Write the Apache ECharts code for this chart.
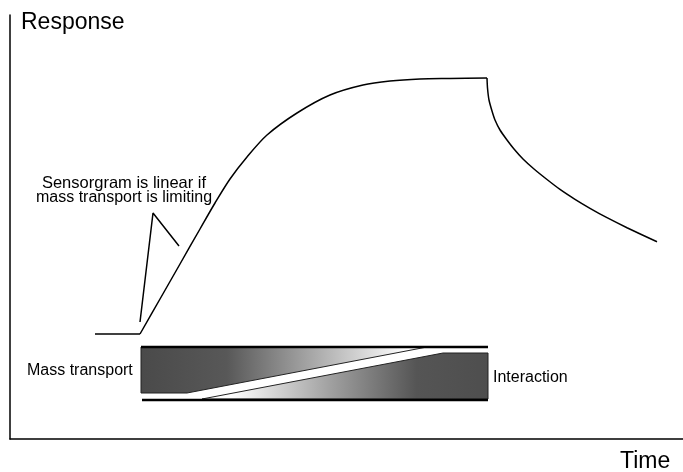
<!DOCTYPE html>
<html>
<head>
<meta charset="utf-8">
<script src="https://cdn.jsdelivr.net/npm/echarts@6/dist/echarts.min.js"></script>
<style>html,body{margin:0;padding:0;background:#fff;}#c{width:683px;height:472px;}</style>
</head>
<body>
<div id="c"></div>
<script>
// Sensorgram (arbitrary time / response units)
var baselineTime = [85, 130];
var baselineResp = [105, 105];
var assocTime = [130, 150, 170, 190, 205, 220, 237, 257, 287, 320, 353, 380, 410, 440, 477];
var assocResp = [105, 140, 175, 210, 236, 260, 282, 304, 326, 344, 354, 358, 360, 360.5, 361];
var dissocTime = [477, 477.5, 479, 482, 485, 490, 497, 504, 513, 524, 537, 550, 565, 580, 597, 617, 647];
var dissocResp = [361, 351, 339, 328, 319, 309, 299, 290, 280, 270, 259.5, 249.6, 239.7, 230.7, 221.3, 211.3, 197.2];
// Annotation pointer
var pointerTime = [130, 143, 169];
var pointerResp = [117, 226, 193];
// Bottom schematic bars
var massTransportX = [131, 417, 177, 131];
var massTransportY = [92, 92, 46, 46];
var interactionX = [192, 433, 478, 478];
var interactionY = [40, 86, 86, 40];
var topLineX = [131, 478];
var topLineY = [92, 92];
var bottomLineX = [132, 478];
var bottomLineY = [39, 39];
// Texts
var yTitle = 'Response';
var xTitle = 'Time';
var noteLines = ['Sensorgram is linear if', 'mass transport is limiting'];
var massLabel = 'Mass transport';
var interLabel = 'Interaction';

function pairs(xs, ys) { return xs.map(function (x, i) { return [x, ys[i]]; }); }

var chart = echarts.init(document.getElementById('c'));
var FONT = '"Liberation Sans", Arial, Helvetica, sans-serif';
var lineStyle = { color: '#000', width: 1.5 };

function polyItem(xs, ys, stops) {
  return function (params, api) {
    if (params.dataIndex !== 0) return null;
    var pts = xs.map(function (x, i) { return api.coord([x, ys[i]]); });
    var minX = Math.min.apply(null, pts.map(function (p) { return p[0]; }));
    var maxX = Math.max.apply(null, pts.map(function (p) { return p[0]; }));
    return {
      type: 'polygon',
      shape: { points: pts },
      style: {
        fill: new echarts.graphic.LinearGradient(minX, 0, maxX, 0, stops, true),
        stroke: '#222',
        lineWidth: 1
      }
    };
  };
}

var option = {
  animation: false,
  grid: { left: 10, right: 0, top: 15, bottom: 33 },
  xAxis: {
    type: 'value', min: 0, max: 673,
    axisLine: { show: true, lineStyle: { color: '#000', width: 1.5 } },
    axisTick: { show: false }, axisLabel: { show: false }, splitLine: { show: false }
  },
  yAxis: {
    type: 'value', min: 0, max: 424,
    axisLine: { show: true, lineStyle: { color: '#000', width: 1.5 } },
    axisTick: { show: false }, axisLabel: { show: false }, splitLine: { show: false }
  },
  series: [
    { type: 'line', data: pairs(baselineTime, baselineResp), symbol: 'none', lineStyle: lineStyle },
    { type: 'line', data: pairs(assocTime, assocResp), symbol: 'none', smooth: 0.3, lineStyle: lineStyle },
    { type: 'line', data: pairs(dissocTime, dissocResp), symbol: 'none', smooth: 0.2, lineStyle: lineStyle },
    { type: 'line', data: pairs(pointerTime, pointerResp), symbol: 'none', lineStyle: lineStyle },
    {
      type: 'custom', data: [[0, 0]],
      renderItem: polyItem(massTransportX, massTransportY, [
        { offset: 0, color: '#4a4a4a' }, { offset: 0.3, color: '#585858' },
        { offset: 0.6, color: '#a8a8a8' }, { offset: 0.93, color: '#ffffff' }, { offset: 1, color: '#ffffff' }
      ]),
      z: 3
    },
    {
      type: 'custom', data: [[0, 0]],
      renderItem: polyItem(interactionX, interactionY, [
        { offset: 0, color: '#ffffff' }, { offset: 0.1, color: '#ffffff' },
        { offset: 0.45, color: '#a0a0a0' }, { offset: 0.75, color: '#555555' }, { offset: 1, color: '#4e4e4e' }
      ]),
      z: 3
    },
    { type: 'line', data: pairs(topLineX, topLineY), symbol: 'none', lineStyle: { color: '#000', width: 2.5 }, z: 4 },
    { type: 'line', data: pairs(bottomLineX, bottomLineY), symbol: 'none', lineStyle: { color: '#000', width: 2.5 }, z: 4 }
  ],
  graphic: [
    { type: 'text', x: 21, y: 23, style: { text: yTitle, font: '23px ' + FONT, fill: '#000', textVerticalAlign: 'middle' } },
    { type: 'text', x: 620, y: 462, style: { text: xTitle, font: '23px ' + FONT, fill: '#000', textVerticalAlign: 'middle' } },
    { type: 'text', x: 124, y: 183, style: { text: noteLines[0], font: '16.5px ' + FONT, fill: '#000', textAlign: 'center', textVerticalAlign: 'middle' } },
    { type: 'text', x: 124, y: 198, style: { text: noteLines[1], font: '16px ' + FONT, fill: '#000', textAlign: 'center', textVerticalAlign: 'middle' } },
    { type: 'text', x: 27, y: 371, style: { text: massLabel, font: '16px ' + FONT, fill: '#000', textVerticalAlign: 'middle' } },
    { type: 'text', x: 493, y: 378, style: { text: interLabel, font: '16px ' + FONT, fill: '#000', textVerticalAlign: 'middle' } }
  ]
};
chart.setOption(option);
</script>
</body>
</html>
